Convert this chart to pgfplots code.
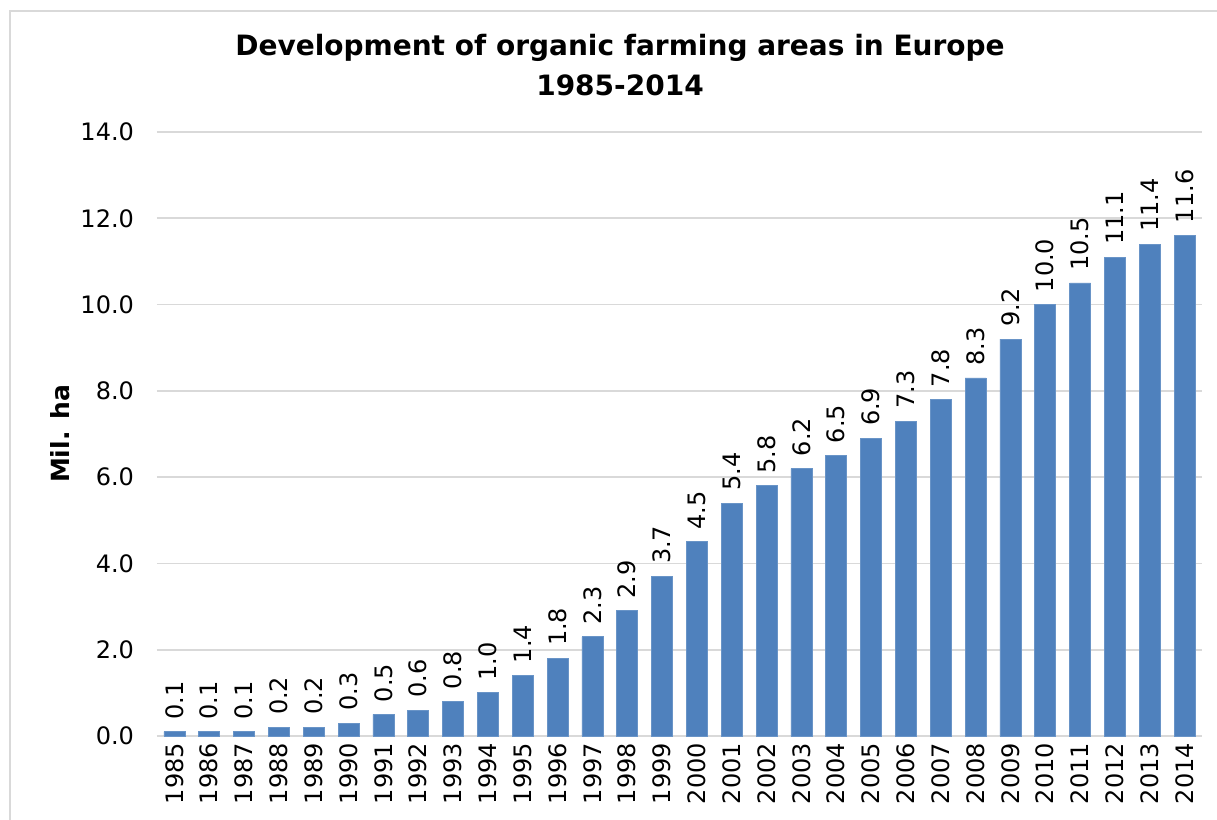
\documentclass[border=0pt]{standalone}
\usepackage{fontspec}
\setmainfont{DejaVu Sans}
\usepackage{pgfplots}
\pgfplotsset{compat=1.18}
\definecolor{barblue}{HTML}{4F81BD}
\definecolor{gridgray}{HTML}{D9D9D9}
\begin{document}
\begin{tikzpicture}[x=0.5pt,y=0.5pt]
% canvas in reference pixels, origin at the axis' lower left corner
\useasboundingbox (-157,-84) rectangle (1060,736);
\draw[gridgray, line width=1.2pt] (-147,-84) -- (-147,725) -- (1060,725);
\begin{axis}[
    at={(0,0)}, anchor=south west,
    scale only axis,
    width=522.5pt, height=302pt,
    ybar, bar width=10.5pt,
    xmin=1984.5, xmax=2014.5,
    ymin=0, ymax=14,
    xtick=data,
    ytick={0,2,...,14},
    major tick length=0pt,
    axis x line*=bottom, axis y line*=left,
    x axis line style={gridgray, line width=0.8pt, -},
    y axis line style={draw=none},
    ymajorgrids, grid style={gridgray, line width=0.8pt},
    /pgf/number format/assume math mode=true,
    tick label style={font=\fontsize{12}{14}\selectfont},
    xticklabel style={rotate=90, anchor=east,
        /pgf/number format/set thousands separator={}},
    yticklabel style={xshift=-8pt, /pgf/number format/.cd, fixed, fixed zerofill, precision=1},
    ylabel={\textbf{Mil. ha}},
    every axis y label/.style={at={(axis description cs:0,0.5)}, xshift=-48.5pt,
        rotate=90, anchor=center, font=\fontsize{12.5}{15}\selectfont},
    nodes near coords,
    nodes near coords style={font=\fontsize{12}{14}\selectfont, rotate=90, anchor=west,
        inner xsep=6pt,
        /pgf/number format/.cd, fixed, fixed zerofill, precision=1, assume math mode=true},
]
\addplot[fill=barblue, draw=barblue!85!white] coordinates {
    (1985,0.1) (1986,0.1) (1987,0.1) (1988,0.2) (1989,0.2)
    (1990,0.3) (1991,0.5) (1992,0.6) (1993,0.8) (1994,1.0)
    (1995,1.4) (1996,1.8) (1997,2.3) (1998,2.9) (1999,3.7)
    (2000,4.5) (2001,5.4) (2002,5.8) (2003,6.2) (2004,6.5)
    (2005,6.9) (2006,7.3) (2007,7.8) (2008,8.3) (2009,9.2)
    (2010,10.0) (2011,10.5) (2012,11.1) (2013,11.4) (2014,11.6)
};
\end{axis}
\node[font=\fontsize{14}{16}\selectfont\bfseries] at (463,688) {Development of organic farming areas in Europe};
\node[font=\fontsize{14}{16}\selectfont\bfseries] at (463,651) {1985-2014};
\end{tikzpicture}
\end{document}
